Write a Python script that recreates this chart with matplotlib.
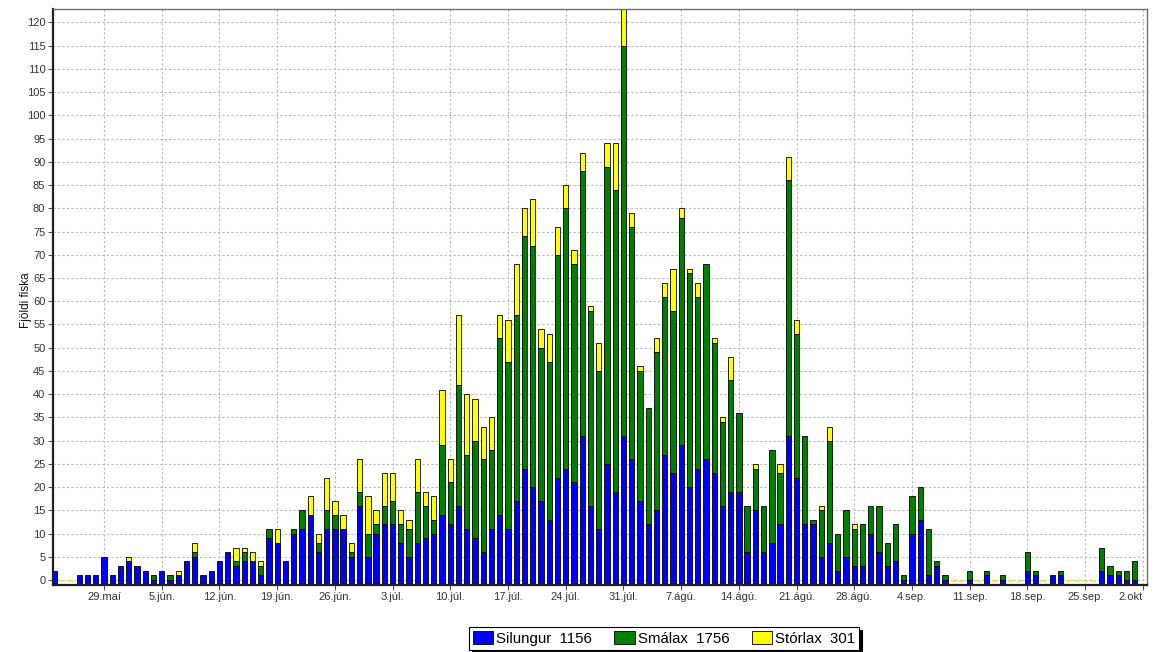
import matplotlib
matplotlib.use('Agg')
import matplotlib.pyplot as plt
import numpy as np

plt.rcParams['font.family'] = ['Liberation Sans', 'DejaVu Sans']

# Day offsets relative to 29 May (one bar per day, -6 = 23 May ... 125 = 1 Oct)
day_offset = list(range(-6, 126))

silungur = [
    2, 0, 0, 1, 1, 1, 5, 1, 3, 4,
    3, 2, 0, 2, 0, 1, 4, 5, 1, 2,
    4, 6, 3, 4, 4, 1, 9, 8, 4, 10,
    11, 14, 6, 11, 11, 11, 5, 16, 5, 10,
    12, 12, 8, 5, 8, 9, 10, 14, 12, 16,
    11, 9, 6, 11, 14, 11, 17, 24, 20, 17,
    13, 22, 24, 21, 31, 16, 11, 25, 19, 31,
    26, 17, 12, 15, 27, 23, 29, 20, 24, 26,
    23, 16, 19, 19, 6, 15, 6, 8, 12, 31,
    22, 12, 12, 5, 8, 2, 5, 3, 3, 10,
    6, 3, 4, 0, 10, 13, 1, 3, 0, 0,
    0, 0, 0, 1, 0, 0, 0, 0, 2, 1,
    0, 1, 1, 0, 0, 0, 0, 2, 1, 1,
    0, 0,
]
smalax = [
    0, 0, 0, 0, 0, 0, 0, 0, 0, 0,
    0, 0, 1, 0, 1, 0, 0, 1, 0, 0,
    0, 0, 1, 2, 0, 2, 2, 0, 0, 1,
    4, 0, 2, 4, 3, 0, 1, 3, 5, 2,
    4, 5, 4, 6, 11, 7, 3, 15, 9, 26,
    16, 21, 20, 17, 38, 36, 40, 50, 52, 33,
    34, 48, 56, 47, 57, 42, 34, 64, 65, 84,
    50, 28, 25, 34, 34, 35, 49, 46, 37, 42,
    28, 18, 24, 17, 10, 9, 10, 20, 11, 55,
    31, 19, 1, 10, 22, 8, 10, 8, 9, 6,
    10, 5, 8, 1, 8, 7, 10, 1, 1, 0,
    0, 2, 0, 1, 0, 1, 0, 0, 4, 1,
    0, 0, 1, 0, 0, 0, 0, 5, 2, 1,
    2, 4,
]
storlax = [
    0, 0, 0, 0, 0, 0, 0, 0, 0, 1,
    0, 0, 0, 0, 0, 1, 0, 2, 0, 0,
    0, 0, 3, 1, 2, 1, 0, 3, 0, 0,
    0, 4, 2, 7, 3, 3, 2, 7, 8, 3,
    7, 6, 3, 2, 7, 3, 5, 12, 5, 15,
    13, 9, 7, 7, 5, 9, 11, 6, 10, 4,
    6, 6, 5, 3, 4, 1, 6, 5, 10, 9,
    3, 1, 0, 3, 3, 9, 2, 1, 3, 0,
    1, 1, 5, 0, 0, 1, 0, 0, 2, 5,
    3, 0, 0, 1, 3, 0, 0, 1, 0, 0,
    0, 0, 0, 0, 0, 0, 0, 0, 0, 0,
    0, 0, 0, 0, 0, 0, 0, 0, 0, 0,
    0, 0, 0, 0, 0, 0, 0, 0, 0, 0,
    0, 0,
]

tick_days = list(range(0, 127, 7))
tick_labels = ["29.maí", "5.jún.", "12.jún.", "19.jún.", "26.jún.", "3.júl.",
               "10.júl.", "17.júl.", "24.júl.", "31.júl.", "7.ágú.", "14.ágú.",
               "21.ágú.", "28.ágú.", "4.sep.", "11.sep.", "18.sep.", "25.sep.",
               "2.okt"]

series_names = ["Silungur", "Smálax", "Stórlax"]
series_colors = ["#0000FF", "#008000", "#FFFF00"]
legend_totals = [1156, 1756, 301]

x = np.array(day_offset, dtype=float)
b = np.array(silungur, dtype=float)
g = np.array(smalax, dtype=float)
y = np.array(storlax, dtype=float)

YMIN, YMAX = -1.0, 122.9

fig = plt.figure(figsize=(11.6, 6.52), dpi=100)
ax = fig.add_axes([53 / 1160, 67.3 / 652, 1094 / 1160, 575.7 / 652])

width = 0.64
has = (b + g + y) > 0
empty = ~has
ekw = dict(edgecolor="black", linewidth=0.6)

h1 = ax.bar(x[has], b[has] - YMIN, width, bottom=YMIN, color=series_colors[0], **ekw)
m2 = has & (g > 0)
h2 = ax.bar(x[m2], g[m2], width, bottom=b[m2], color=series_colors[1], **ekw)
m3 = has & (y > 0)
h3 = ax.bar(x[m3], y[m3], width, bottom=(b + g)[m3], color=series_colors[2], **ekw)
# zero-days show a thin yellow stub on the base line
ax.bar(x[empty], 0.45, width, bottom=-0.45, color="#E8E860", linewidth=0)

ax.set_xlim(-6.19, 126.5)
ax.set_ylim(YMIN, YMAX)
ax.set_yticks(range(0, 121, 5))
ax.set_xticks(tick_days)
ax.set_xticklabels(tick_labels)

ax.grid(True, color="#B8B8B8", linestyle=(0, (2, 2)), linewidth=0.8)
ax.set_axisbelow(True)

ax.tick_params(axis="both", labelsize=8, colors="#555555", length=3.5, width=0.8,
               direction="out", pad=2)
for lab in ax.get_xticklabels() + ax.get_yticklabels():
    lab.set_color("#333333")
ax.get_xticklabels()[-1].set_ha("right")

for s in ["left", "bottom"]:
    ax.spines[s].set_color("#202020")
    ax.spines[s].set_linewidth(1.6)
for s in ["top", "right"]:
    ax.spines[s].set_color("#707070")
    ax.spines[s].set_linewidth(1.0)

ax.set_ylabel("Fjöldi fiska", fontsize=8.5, color="#111111")
ax.yaxis.set_label_coords(-0.0195, 0.495)

labels = [f"{n}  {t}" for n, t in zip(series_names, legend_totals)]
leg = fig.legend([h1, h2, h3], labels, loc="center", bbox_to_anchor=(664 / 1160, 13.5 / 652),
                 ncol=3, fontsize=10.8, frameon=True, fancybox=False,
                 shadow={"color": "black", "alpha": 1},
                 handlelength=1.35, handleheight=0.95, handletextpad=0.2, columnspacing=1.5,
                 borderpad=0.25, borderaxespad=0)
leg.get_frame().set_edgecolor("black")
leg.get_frame().set_linewidth(0.8)

fig.savefig("out.png", dpi=100)
